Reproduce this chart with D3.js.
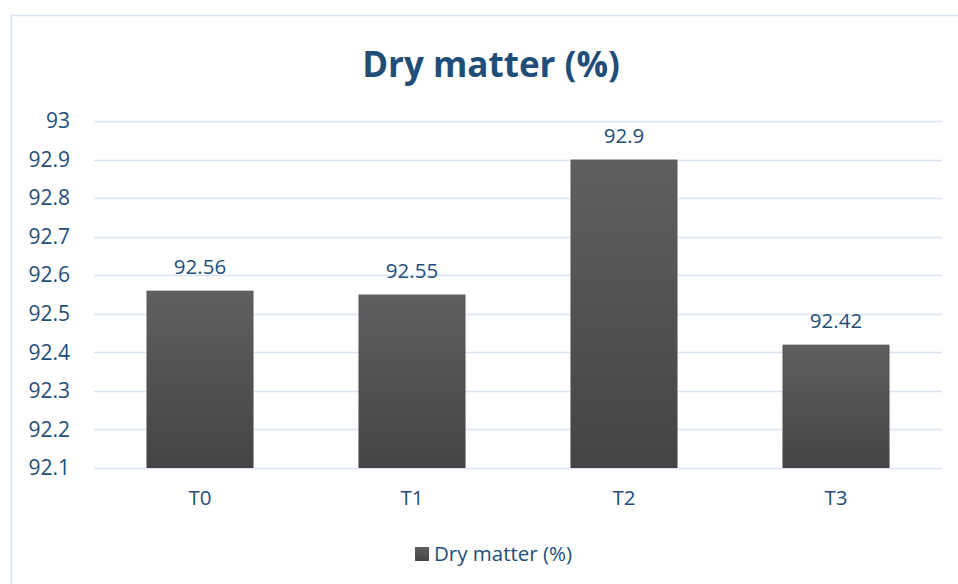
<!DOCTYPE html>
<html>
<head>
<meta charset="utf-8">
<script src="https://cdn.jsdelivr.net/npm/d3@7"></script>
<style>
  body { margin: 0; background: #fff; }
  text { font-family: "Open Sans", sans-serif; }
</style>
</head>
<body>
<svg id="chart" width="958" height="584"></svg>
<script>
// data
const categories = ["T0", "T1", "T2", "T3"];
const dryMatter = [92.56, 92.55, 92.9, 92.42];
const yTicks = [92.1, 92.2, 92.3, 92.4, 92.5, 92.6, 92.7, 92.8, 92.9, 93];
const seriesName = "Dry matter (%)";

const textColor = "#1F4E79";
const gridColor = "#D9E4F2";

let svg = d3.select("#chart");

let defs = svg.append("defs");
let grad = defs.append("linearGradient")
    .attr("id", "barGrad")
    .attr("x1", 0).attr("y1", 0).attr("x2", 0).attr("y2", 1);
grad.append("stop").attr("offset", "0%").attr("stop-color", "#5F5F5F");
grad.append("stop").attr("offset", "100%").attr("stop-color", "#444444");

// chart frame (only top and left edges visible)
svg.append("path")
    .attr("d", "M11.5,584 L11.5,15.5 L958,15.5")
    .attr("fill", "none")
    .attr("stroke", gridColor)
    .attr("stroke-width", 1.5);

let margin = {left: 94, right: 942, top: 121, bottom: 468};

let x = d3.scaleBand()
    .domain(categories)
    .range([margin.left, margin.right])
    .paddingInner(0.495)
    .paddingOuter(0.2475);

let y = d3.scaleLinear()
    .domain([92.1, 93])
    .range([margin.bottom, margin.top]);

// gridlines
svg.append("g")
  .selectAll("line")
  .data(yTicks)
  .enter().append("line")
    .attr("x1", margin.left)
    .attr("x2", margin.right)
    .attr("y1", d => Math.round(y(d)) + 0.5)
    .attr("y2", d => Math.round(y(d)) + 0.5)
    .attr("stroke", gridColor)
    .attr("stroke-width", 1.5);

// y axis labels
let yAxis = d3.axisLeft(y)
    .tickValues(yTicks)
    .tickFormat(d3.format("~g"))
    .tickSize(0)
    .tickPadding(24);
let yg = svg.append("g")
    .attr("transform", `translate(${margin.left},0)`)
    .call(yAxis);
yg.select(".domain").remove();
yg.selectAll("text")
    .attr("fill", textColor)
    .style("font-size", "21px")
    .style("font-family", "'Open Sans', sans-serif");

// bars
svg.append("g")
  .selectAll("rect")
  .data(dryMatter)
  .enter().append("rect")
    .attr("x", (d, i) => x(categories[i]))
    .attr("width", x.bandwidth())
    .attr("y", d => y(d))
    .attr("height", d => y(92.1) - y(d))
    .attr("fill", "url(#barGrad)");

// value labels
svg.append("g")
  .selectAll("text")
  .data(dryMatter)
  .enter().append("text")
    .attr("x", (d, i) => x(categories[i]) + x.bandwidth() / 2)
    .attr("y", d => y(d) - 17)
    .attr("text-anchor", "middle")
    .attr("fill", textColor)
    .style("font-size", "20.5px")
    .text(d => d);

// x axis labels
let xAxis = d3.axisBottom(x).tickSize(0).tickPadding(22);
let xg = svg.append("g")
    .attr("transform", `translate(0,${margin.bottom})`)
    .call(xAxis);
xg.select(".domain").remove();
xg.selectAll("text")
    .attr("fill", textColor)
    .style("font-size", "20.5px")
    .style("font-family", "'Open Sans', sans-serif");

// title
svg.append("text")
    .attr("x", 491)
    .attr("y", 77)
    .attr("text-anchor", "middle")
    .attr("fill", textColor)
    .style("font-size", "35px")
    .style("font-weight", "bold")
    .text(seriesName);

// legend
let legend = svg.append("g");
legend.append("rect")
    .attr("x", 415).attr("y", 547)
    .attr("width", 14).attr("height", 14)
    .attr("fill", "url(#barGrad)");
legend.append("text")
    .attr("x", 434)
    .attr("y", 561)
    .attr("fill", textColor)
    .style("font-size", "20.5px")
    .text(seriesName);
</script>
</body>
</html>
